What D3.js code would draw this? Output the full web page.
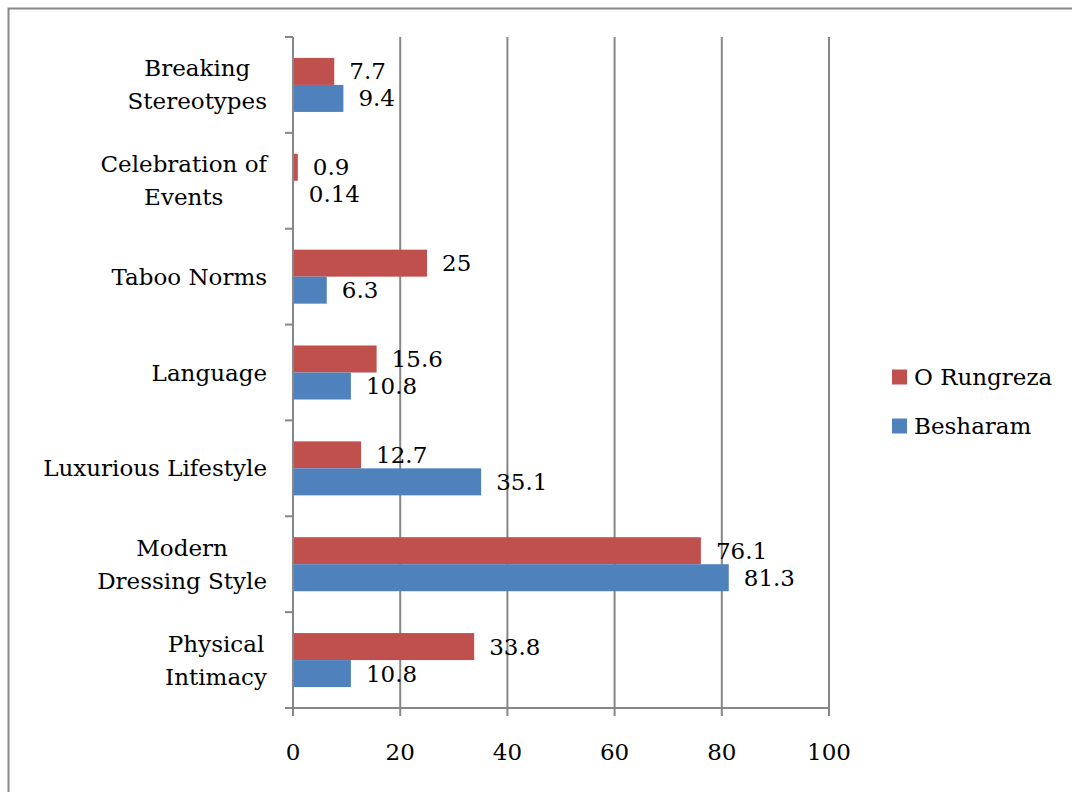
<!DOCTYPE html>
<html>
<head>
<meta charset="utf-8">
<script src="https://cdn.jsdelivr.net/npm/d3@7"></script>
<style>
  html, body { margin: 0; padding: 0; background: #fff; overflow: hidden; }
  text { font-family: "DejaVu Serif", serif; fill: #000; }
</style>
</head>
<body>
<div id="chart"></div>
<script>
// categories top to bottom, each label split into lines
const categories = [
    ["Breaking", "Stereotypes"],
    ["Celebration of", "Events"],
    ["Taboo Norms"],
    ["Language"],
    ["Luxurious Lifestyle"],
    ["Modern", "Dressing Style"],
    ["Physical", "Intimacy"]
];
const seriesNames = ["O Rungreza", "Besharam"];
const oRungreza = [7.7, 0.9, 25, 15.6, 12.7, 76.1, 33.8];
const besharam = [9.4, 0.14, 6.3, 10.8, 35.1, 81.3, 10.8];
const xTicks = [0, 20, 40, 60, 80, 100];
const colors = ["#C0504D", "#4F81BD"];

function drawChart() {
    const width = 1072, height = 792;
    const plot = { left: 293, right: 829, top: 37, bottom: 708 };
    const fontSize = 23;
    const gridColor = "#878787";

    const svg = d3.select("#chart").append("svg")
        .attr("width", width)
        .attr("height", height);

    // outer frame (runs off the right and bottom edges)
    svg.append("rect")
        .attr("x", 8.5).attr("y", 8.5)
        .attr("width", 1200).attr("height", 1000)
        .attr("fill", "#fff")
        .attr("stroke", gridColor)
        .attr("stroke-width", 2);

    const keys = categories.map(c => c.join(" "));
    const x = d3.scaleLinear().domain([0, 100]).range([plot.left, plot.right]);
    const y = d3.scaleBand().domain(keys).range([plot.top, plot.bottom]).padding(0);
    const ySub = d3.scaleBand().domain(seriesNames).range([0, y.bandwidth()])
        .paddingInner(0).paddingOuter(0.775);

    // vertical gridlines
    svg.append("g").selectAll("line")
        .data(xTicks.slice(1))
        .join("line")
        .attr("x1", d => x(d)).attr("x2", d => x(d))
        .attr("y1", plot.top).attr("y2", plot.bottom)
        .attr("stroke", gridColor).attr("stroke-width", 2);

    // bars
    const data = keys.map((k, i) => ({ key: k, values: [oRungreza[i], besharam[i]] }));
    const groups = svg.append("g").selectAll("g")
        .data(data)
        .join("g")
        .attr("transform", d => `translate(0,${y(d.key)})`);

    groups.selectAll("rect")
        .data(d => d.values.map((v, j) => ({ name: seriesNames[j], v, j })))
        .join("rect")
        .attr("x", x(0))
        .attr("y", d => ySub(d.name))
        .attr("width", d => x(d.v) - x(0))
        .attr("height", ySub.bandwidth())
        .attr("fill", d => colors[d.j]);

    groups.selectAll("text")
        .data(d => d.values.map((v, j) => ({ name: seriesNames[j], v, j })))
        .join("text")
        .attr("x", d => x(d.v) + 15)
        .attr("y", d => ySub(d.name) + ySub.bandwidth() / 2)
        .attr("dy", "0.35em")
        .style("font-size", fontSize + "px")
        .text(d => d.v);

    // axes lines
    svg.append("line")
        .attr("x1", x(0)).attr("x2", x(0))
        .attr("y1", plot.top).attr("y2", plot.bottom)
        .attr("stroke", gridColor).attr("stroke-width", 2);
    svg.append("line")
        .attr("x1", x(0) - 1).attr("x2", x(100) + 1)
        .attr("y1", plot.bottom).attr("y2", plot.bottom)
        .attr("stroke", gridColor).attr("stroke-width", 2);

    // y ticks at band boundaries
    const bounds = keys.map(k => y(k)).concat([plot.bottom]);
    svg.append("g").selectAll("line")
        .data(bounds)
        .join("line")
        .attr("x1", x(0) - 8).attr("x2", x(0))
        .attr("y1", d => d).attr("y2", d => d)
        .attr("stroke", gridColor).attr("stroke-width", 2);

    // x ticks + labels
    svg.append("g").selectAll("line")
        .data(xTicks)
        .join("line")
        .attr("x1", d => x(d)).attr("x2", d => x(d))
        .attr("y1", plot.bottom).attr("y2", plot.bottom + 8)
        .attr("stroke", gridColor).attr("stroke-width", 2);
    svg.append("g").selectAll("text")
        .data(xTicks)
        .join("text")
        .attr("x", d => x(d))
        .attr("y", 752)
        .attr("dy", "0.35em")
        .attr("text-anchor", "middle")
        .style("font-size", fontSize + "px")
        .text(d => d);

    // category labels: lines centred on each other, block right-aligned
    const labelRight = 267, lineH = 33;
    categories.forEach((lines, i) => {
        const cy = y(keys[i]) + y.bandwidth() / 2;
        const g = svg.append("g");
        const texts = lines.map((t, j) => g.append("text")
            .attr("y", cy + (j - (lines.length - 1) / 2) * lineH)
            .attr("dy", "0.35em")
            .attr("text-anchor", "middle")
            .style("font-size", fontSize + "px")
            .text(t));
        const maxW = d3.max(texts, t => t.node().getComputedTextLength());
        texts.forEach(t => t.attr("x", labelRight - maxW / 2));
    });

    // legend
    const legend = svg.append("g").selectAll("g")
        .data(seriesNames)
        .join("g")
        .attr("transform", (d, i) => `translate(892,${377 + i * 49})`);
    legend.append("rect")
        .attr("x", 0).attr("y", -7.5)
        .attr("width", 15).attr("height", 15)
        .attr("fill", (d, i) => colors[i]);
    legend.append("text")
        .attr("x", 22).attr("y", 0)
        .attr("dy", "0.35em")
        .style("font-size", fontSize + "px")
        .text(d => d);
}

drawChart();
</script>
</body>
</html>
